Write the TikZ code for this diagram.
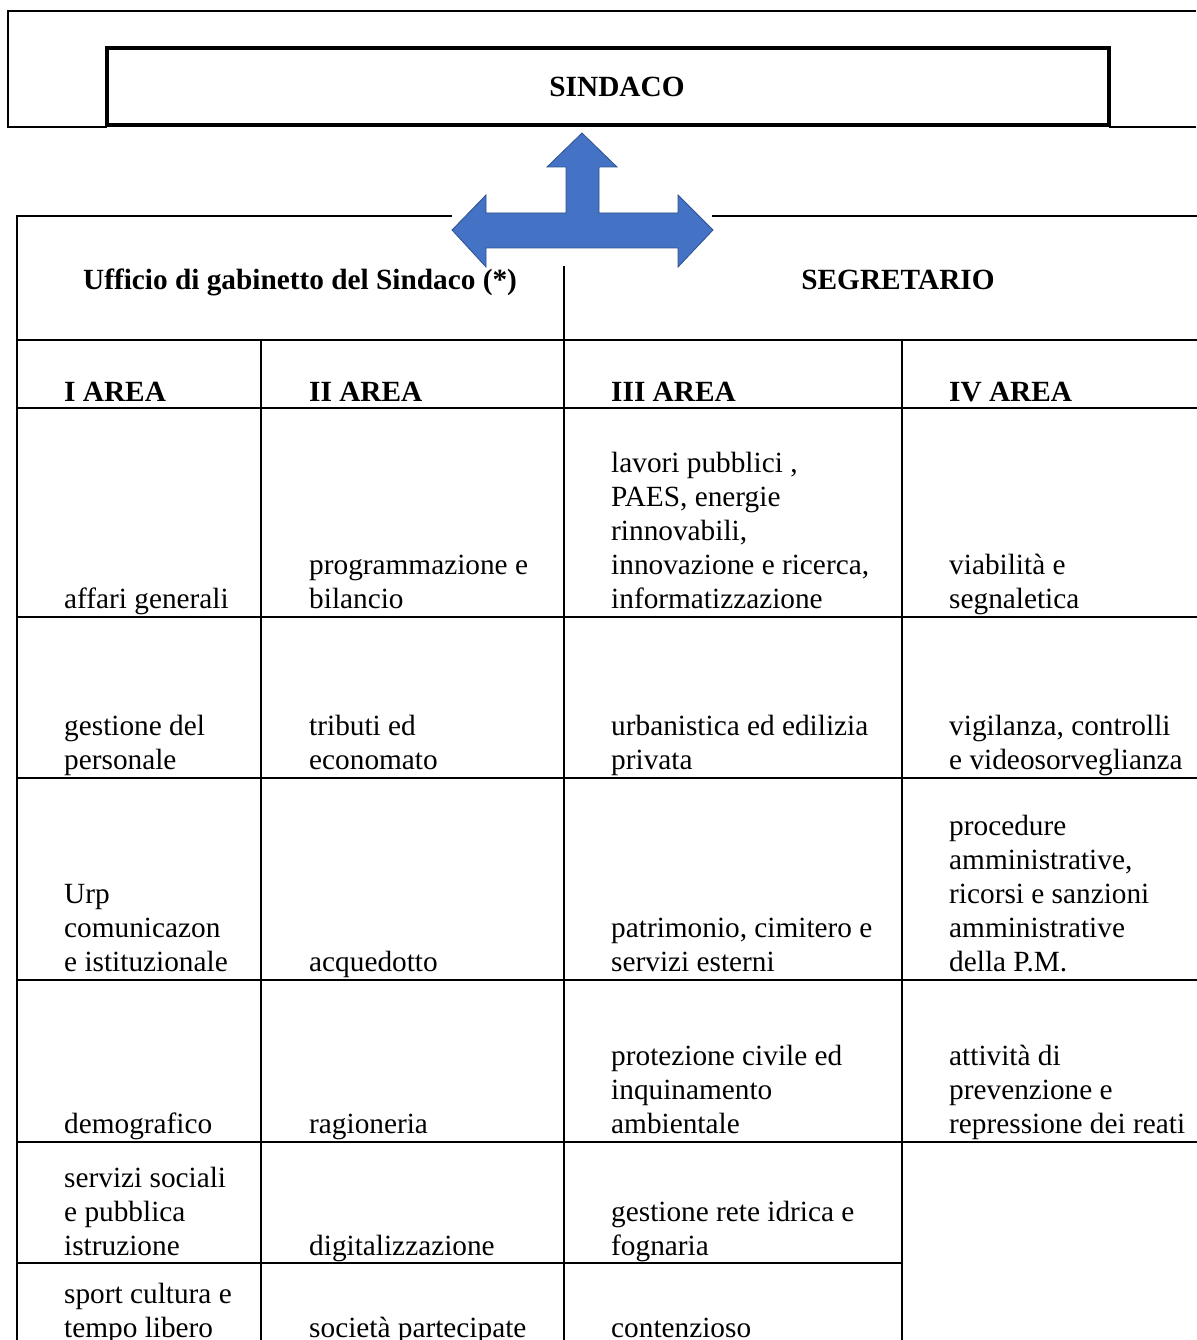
\documentclass[tikz,border=0pt]{standalone}
\usepackage{fontspec}
\setmainfont{Liberation Serif}
\definecolor{arrowfill}{HTML}{4472C4}
\definecolor{arrowline}{HTML}{2F528F}
\begin{document}
\begin{tikzpicture}[x=1pt,y=-1pt,
  tline/.style={line width=2.2pt, line cap=rect},
  obox/.style={line width=2.6pt},
  ibox/.style={line width=3.6pt},
  txt/.style={anchor=base west, inner sep=0pt, align=left, font=\fontsize{29.3}{34}\selectfont},
  hdr/.style={anchor=base west, inner sep=0pt, font=\fontsize{29.3}{34}\selectfont\bfseries},
  ctr/.style={anchor=base, inner sep=0pt, font=\fontsize{29.3}{34}\selectfont\bfseries},
  bigarrow/.style={fill=arrowfill, draw=arrowline, line width=0.8pt, line join=miter}]
\useasboundingbox (0,0) rectangle (1196,1340);
% outer top frame
\draw[obox] (1196,11) -- (8,11) -- (8,127) -- (107,127);
\draw[obox] (1109,127) -- (1196,127);
% sindaco box
\draw[ibox] (107,48) rectangle (1109,125);
\node[ctr] (sindaco) at (617,97) {SINDACO};
% table lines
\draw[tline] (451,216) -- (17,216) -- (17,1345);
\draw[tline] (713,216) -- (1200,216);
\draw[tline] (564,267) -- (564,1345);
\draw[tline] (261,340) -- (261,1345);
\draw[tline] (902,340) -- (902,1345);
\foreach \yy in {340,408,617,778,980,1142} {\draw[tline] (17,\yy) -- (1200,\yy);}
\draw[tline] (17,1263) -- (902,1263);
% arrow
\draw[bigarrow] (582,133) -- (617,167) -- (599,167) -- (599,213) -- (678,213) -- (678,195) -- (713,230)
  -- (678,267) -- (678,248) -- (486,248) -- (486,267) -- (452,230) -- (486,195) -- (486,213)
  -- (566,213) -- (566,167) -- (547,167) -- cycle;
% header texts
\node[ctr] (gab) at (300,289) {Ufficio di gabinetto del Sindaco (*)};
\node[ctr] (seg) at (898,289) {SEGRETARIO};
\node[hdr] (a1) at (64,401) {I AREA};
\node[hdr] (a2) at (309,401) {II AREA};
\node[hdr] (a3) at (611,401) {III AREA};
\node[hdr] (a4) at (949,401) {IV AREA};
% row 1
\node[txt] (r1c1) at (64,608) {affari generali};
\node[txt] (r1c2) at (309,608) {programmazione e\\bilancio};
\node[txt] (r1c3) at (611,608) {lavori pubblici ,\\PAES, energie\\rinnovabili,\\innovazione e ricerca,\\informatizzazione};
\node[txt] (r1c4) at (949,608) {viabilità e\\segnaletica};
% row 2
\node[txt] (r2c1) at (64,769) {gestione del\\personale};
\node[txt] (r2c2) at (309,769) {tributi ed\\economato};
\node[txt] (r2c3) at (611,769) {urbanistica ed edilizia\\privata};
\node[txt] (r2c4) at (949,769) {vigilanza, controlli\\e videosorveglianza};
% row 3
\node[txt] (r3c1) at (64,971) {Urp\\comunicazon\\e istituzionale};
\node[txt] (r3c2) at (309,971) {acquedotto};
\node[txt] (r3c3) at (611,971) {patrimonio, cimitero e\\servizi esterni};
\node[txt] (r3c4) at (949,971) {procedure\\amministrative,\\ricorsi e sanzioni\\amministrative\\della P.M.};
% row 4
\node[txt] (r4c1) at (64,1133) {demografico};
\node[txt] (r4c2) at (309,1133) {ragioneria};
\node[txt] (r4c3) at (611,1133) {protezione civile ed\\inquinamento\\ambientale};
\node[txt] (r4c4) at (949,1133) {attività di\\prevenzione e\\repressione dei reati};
% row 5
\node[txt] (r5c1) at (64,1255) {servizi sociali\\e pubblica\\istruzione};
\node[txt] (r5c2) at (309,1255) {digitalizzazione};
\node[txt] (r5c3) at (611,1255) {gestione rete idrica e\\fognaria};
% row 6
\node[txt] (r6c1) at (64,1337) {sport cultura e\\tempo libero};
\node[txt] (r6c2) at (309,1337) {società partecipate};
\node[txt] (r6c3) at (611,1337) {contenzioso};
\end{tikzpicture}
\end{document}
